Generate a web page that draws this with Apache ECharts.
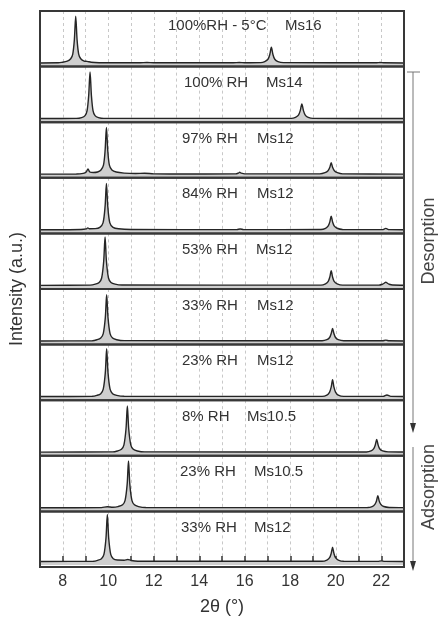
<!DOCTYPE html>
<html>
<head>
<meta charset="utf-8">
<script src="https://cdn.jsdelivr.net/npm/echarts@6/dist/echarts.min.js"></script>
<style>
  html, body { margin: 0; padding: 0; background: #fff; }
  #chart { width: 438px; height: 617px; }
</style>
</head>
<body>
<div id="chart"></div>
<script>
// 2theta range and tick labels
var xMin = 7, xMax = 23;
var xTickLabels = [8, 10, 12, 14, 16, 18, 20, 22];

// panel texts, top to bottom
var conditions = ['100%RH - 5°C', '100% RH', '97% RH', '84% RH', '53% RH', '33% RH', '23% RH', '8% RH', '23% RH', '33% RH'];
var phases = ['Ms16', 'Ms14', 'Ms12', 'Ms12', 'Ms12', 'Ms12', 'Ms12', 'Ms10.5', 'Ms10.5', 'Ms12'];

// diffraction patterns, [2theta, intensity]
var pat100RH5C = [[7,0.01],[7.8,0.012],[7.95,0.02],[8.2,0.045],[8.35,0.09],[8.44,0.18],[8.51,0.45],[8.57,0.9],[8.63,0.45],[8.7,0.18],[8.79,0.09],[8.94,0.045],[9.07,0.04],[9.25,0.022],[9.6,0.014],[11.4,0.012],[11.7,0.018],[12.0,0.012],[15.5,0.012],[15.76,0.018],[16.0,0.012],[16.7,0.015],[16.88,0.035],[17.02,0.08],[17.1,0.17],[17.17,0.31],[17.24,0.17],[17.32,0.08],[17.46,0.035],[17.7,0.015],[21.8,0.012],[21.95,0.018],[22.1,0.012],[23,0.01]];
var pat100RH = [[7,0.01],[8.6,0.012],[8.83,0.028],[8.98,0.065],[9.07,0.16],[9.14,0.45],[9.2,0.9],[9.26,0.45],[9.33,0.16],[9.42,0.065],[9.57,0.028],[9.8,0.012],[18.05,0.012],[18.23,0.032],[18.36,0.075],[18.44,0.16],[18.51,0.29],[18.58,0.16],[18.66,0.075],[18.79,0.032],[19.0,0.012],[23,0.01]];
var pat97RH = [[7,0.01],[8.6,0.012],[8.9,0.025],[9.03,0.05],[9.11,0.11],[9.19,0.05],[9.35,0.04],[9.53,0.05],[9.68,0.09],[9.79,0.18],[9.86,0.45],[9.92,0.9],[9.98,0.45],[10.05,0.18],[10.16,0.09],[10.35,0.05],[10.7,0.03],[11.2,0.022],[11.6,0.028],[12.0,0.015],[13,0.012],[15.6,0.014],[15.72,0.03],[15.78,0.045],[15.84,0.03],[16.0,0.014],[19.3,0.015],[19.53,0.038],[19.66,0.075],[19.74,0.14],[19.8,0.23],[19.86,0.14],[19.94,0.075],[20.07,0.038],[20.3,0.015],[23,0.01]];
var pat84RH = [[7,0.01],[8.8,0.015],[9.03,0.025],[9.1,0.045],[9.17,0.03],[9.43,0.032],[9.63,0.055],[9.77,0.14],[9.86,0.45],[9.92,0.89],[9.98,0.45],[10.07,0.14],[10.21,0.055],[10.45,0.028],[11,0.015],[15.65,0.012],[15.8,0.025],[15.95,0.012],[19.35,0.015],[19.55,0.038],[19.67,0.085],[19.74,0.16],[19.8,0.27],[19.86,0.16],[19.93,0.085],[20.06,0.038],[20.3,0.015],[22.05,0.012],[22.2,0.035],[22.35,0.012],[23,0.01]];
var pat53RH = [[7,0.01],[9.2,0.014],[9.43,0.032],[9.6,0.065],[9.71,0.15],[9.8,0.47],[9.86,0.93],[9.92,0.47],[10.01,0.15],[10.12,0.065],[10.3,0.032],[10.6,0.015],[19.35,0.013],[19.55,0.038],[19.67,0.085],[19.74,0.17],[19.8,0.29],[19.86,0.17],[19.93,0.085],[20.06,0.038],[20.3,0.013],[21.9,0.014],[22.05,0.03],[22.13,0.05],[22.2,0.07],[22.27,0.05],[22.35,0.03],[22.5,0.015],[23,0.012]];
var pat33RH = [[7,0.01],[9.3,0.014],[9.5,0.032],[9.67,0.065],[9.78,0.15],[9.87,0.45],[9.93,0.89],[9.99,0.45],[10.08,0.15],[10.19,0.065],[10.37,0.032],[10.7,0.015],[19.4,0.013],[19.61,0.033],[19.73,0.075],[19.8,0.15],[19.86,0.25],[19.92,0.15],[19.99,0.075],[20.11,0.033],[20.35,0.013],[22.05,0.012],[22.2,0.025],[22.35,0.012],[23,0.01]];
var pat23RH = [[7,0.01],[9.3,0.014],[9.5,0.032],[9.67,0.065],[9.78,0.15],[9.87,0.46],[9.93,0.92],[9.99,0.46],[10.08,0.15],[10.19,0.065],[10.37,0.032],[10.7,0.015],[19.4,0.013],[19.61,0.038],[19.73,0.095],[19.8,0.19],[19.86,0.33],[19.92,0.19],[19.99,0.095],[20.11,0.038],[20.35,0.013],[22.08,0.012],[22.25,0.04],[22.42,0.012],[23,0.01]];
var pat8RH = [[7,0.01],[10.2,0.014],[10.4,0.032],[10.58,0.065],[10.69,0.15],[10.78,0.45],[10.84,0.89],[10.9,0.45],[10.99,0.15],[11.1,0.065],[11.28,0.032],[11.6,0.015],[21.35,0.013],[21.55,0.033],[21.67,0.075],[21.74,0.15],[21.8,0.25],[21.86,0.15],[21.93,0.075],[22.06,0.033],[22.3,0.015],[23,0.012]];
var pat23RHads = [[7,0.01],[9.7,0.012],[9.96,0.03],[10.2,0.02],[10.43,0.032],[10.63,0.065],[10.74,0.15],[10.83,0.45],[10.89,0.9],[10.95,0.45],[11.04,0.15],[11.15,0.065],[11.33,0.032],[11.65,0.015],[19.8,0.012],[21.4,0.013],[21.6,0.033],[21.72,0.075],[21.79,0.14],[21.85,0.24],[21.91,0.14],[21.98,0.075],[22.11,0.033],[22.35,0.015],[23,0.012]];
var pat33RHads = [[7,0.01],[9.35,0.014],[9.53,0.032],[9.7,0.065],[9.81,0.15],[9.9,0.47],[9.96,0.94],[10.02,0.47],[10.11,0.15],[10.22,0.065],[10.4,0.038],[10.7,0.035],[10.86,0.05],[11.0,0.03],[11.3,0.015],[19.4,0.013],[19.61,0.038],[19.73,0.085],[19.8,0.17],[19.86,0.29],[19.92,0.17],[19.99,0.085],[20.11,0.038],[20.35,0.013],[21.85,0.012],[22.0,0.022],[22.15,0.012],[23,0.01]];

var patterns = [pat100RH5C, pat100RH, pat97RH, pat84RH, pat53RH, pat33RH, pat23RH, pat8RH, pat23RHads, pat33RHads];

var chart = echarts.init(document.getElementById('chart'));

var plotTop = 11, panelH = 55.6, plotLeft = 40, plotRight = 34, plotW = 438 - 40 - 34;
var condX = [168, 184, 182, 182, 182, 182, 182, 182, 180, 181];
var phaseX = [285, 266, 257, 257, 256, 257, 257, 247, 254, 254];
var fontFam = '"Liberation Sans", Arial, sans-serif';
var n = patterns.length;

var grids = [], xAxes = [], yAxes = [], series = [], graphics = [];
for (var i = 0; i < n; i++) {
  var last = (i === n - 1);
  var panelTop = plotTop + i * panelH;
  grids.push({ left: plotLeft, right: plotRight, top: panelTop, height: panelH });
  xAxes.push({
    gridIndex: i, type: 'value', min: xMin, max: xMax, interval: 1,
    axisLine: { show: false },
    axisTick: { show: last, inside: true, length: 6, lineStyle: { color: '#333', width: 1.5 } },
    axisLabel: {
      show: last, color: '#333', fontSize: 16, fontFamily: fontFam, margin: 9,
      formatter: function (v) { return xTickLabels.indexOf(v) >= 0 ? String(v) : ''; }
    },
    splitLine: { show: true, lineStyle: { color: '#c8c8c8', type: [3, 3], width: 1 } },
    name: last ? '2θ (°)' : '',
    nameLocation: 'middle', nameGap: 33,
    nameTextStyle: { fontSize: 18, color: '#333', fontFamily: fontFam }
  });
  yAxes.push({ gridIndex: i, type: 'value', min: -0.06, max: 1, show: false });
  series.push({
    type: 'line', xAxisIndex: i, yAxisIndex: i,
    data: patterns[i], showSymbol: false, smooth: 0.3,
    lineStyle: { color: '#252525', width: 1.4 },
    areaStyle: { color: '#cfcfcf', opacity: 1, origin: 'start' },
    silent: true
  });
  // panel frame drawn on top of the grid lines
  graphics.push({
    type: 'rect', z: 100,
    shape: { x: plotLeft, y: panelTop, width: plotW, height: panelH },
    style: { fill: 'transparent', stroke: '#383838', lineWidth: 2 }
  });
  var ty = panelTop + (i === 0 ? 14.5 : 16.5);
  graphics.push({
    type: 'text', x: condX[i], y: ty, z: 100,
    style: { text: conditions[i], fill: '#333', font: '15px ' + fontFam, textVerticalAlign: 'middle' }
  });
  graphics.push({
    type: 'text', x: phaseX[i], y: ty, z: 100,
    style: { text: phases[i], fill: '#333', font: '15px ' + fontFam, textVerticalAlign: 'middle' }
  });
}

// y axis title
graphics.push({
  type: 'text', x: 17, y: 289, rotation: Math.PI / 2,
  style: { text: 'Intensity (a.u.)', fill: '#333', font: '18px ' + fontFam, textAlign: 'center', textVerticalAlign: 'middle' }
});

// desorption / adsorption arrows
var arrowStyle = { stroke: '#777', lineWidth: 1 };
graphics.push({ type: 'line', shape: { x1: 407, y1: 72, x2: 420, y2: 72 }, style: arrowStyle });
graphics.push({ type: 'line', shape: { x1: 413, y1: 72, x2: 413, y2: 428 }, style: arrowStyle });
graphics.push({ type: 'polygon', shape: { points: [[410, 423], [416, 423], [413, 433]] }, style: { fill: '#333' } });
graphics.push({ type: 'line', shape: { x1: 413, y1: 447, x2: 413, y2: 566 }, style: arrowStyle });
graphics.push({ type: 'polygon', shape: { points: [[410, 561], [416, 561], [413, 571]] }, style: { fill: '#333' } });
graphics.push({
  type: 'text', x: 429, y: 241, rotation: Math.PI / 2,
  style: { text: 'Desorption', fill: '#444', font: '18px ' + fontFam, textAlign: 'center', textVerticalAlign: 'middle' }
});
graphics.push({
  type: 'text', x: 429, y: 487, rotation: Math.PI / 2,
  style: { text: 'Adsorption', fill: '#444', font: '18px ' + fontFam, textAlign: 'center', textVerticalAlign: 'middle' }
});

chart.setOption({
  animation: false,
  grid: grids,
  xAxis: xAxes,
  yAxis: yAxes,
  series: series,
  graphic: graphics
});
</script>
</body>
</html>
